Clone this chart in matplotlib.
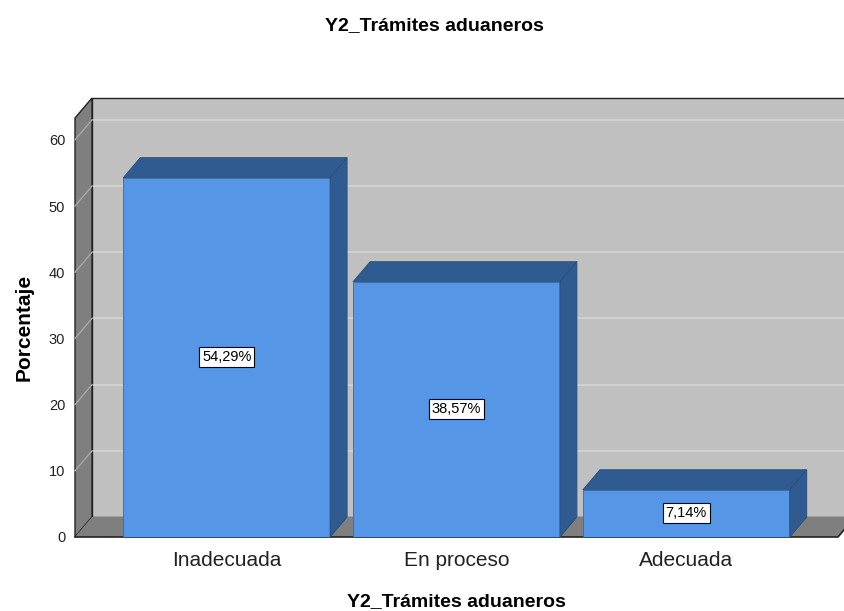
import numpy as np
import matplotlib
matplotlib.use('Agg')
import matplotlib.pyplot as plt
from matplotlib.patches import Polygon

plt.rcParams['font.family'] = ['Liberation Sans', 'DejaVu Sans']

categories = ['Inadecuada', 'En proceso', 'Adecuada']
percents = [54.29, 38.57, 7.14]
labels = ['54,29%', '38,57%', '7,14%']
yticks = [0, 10, 20, 30, 40, 50, 60]
title = 'Y2_Trámites aduaneros'

W, H = 844, 611
fig = plt.figure(figsize=(W / 100, H / 100), dpi=100)
# front plane of the 3d box, in pixels
L, R, B, T = 75, 838, 537, 118
ax = fig.add_axes([L / W, 1 - B / H, (R - L) / W, (B - T) / H])
xmin, xmax = -0.66, 2.66
ymax = 63.3
ax.set_xlim(xmin, xmax)
ax.set_ylim(0, ymax)

# depth offset in data units (17 px right, 20 px up)
DX = 17 / ((R - L) / (xmax - xmin))
DY = 20 / ((B - T) / ymax)

wall = '#c0c0c0'
side = '#7f7f7f'
grid = '#d4d4d4'
front = '#5596e6'
dark = '#2f5b91'

# back wall
ax.add_patch(Polygon([(xmin + DX, DY), (xmax + DX + 1, DY), (xmax + DX + 1, ymax + DY),
                      (xmin + DX, ymax + DY)], closed=True, fc=wall, ec='#222222',
                     lw=1, clip_on=False, zorder=1))
for y in yticks[1:]:
    ax.plot([xmin + DX, xmax + DX + 1], [y + DY, y + DY], color=grid, lw=1.2,
            clip_on=False, zorder=2)

# left wall
ax.add_patch(Polygon([(xmin, 0), (xmin, ymax), (xmin + DX, ymax + DY), (xmin + DX, DY)],
                     closed=True, fc=side, ec='#222222', lw=1, clip_on=False, zorder=3))
for y in yticks[1:]:
    ax.plot([xmin, xmin + DX], [y, y + DY], color='#a8a8a8', lw=1, clip_on=False, zorder=4)

# floor
ax.add_patch(Polygon([(xmin, 0), (xmax, 0), (xmax + DX, DY), (xmin + DX, DY)],
                     closed=True, fc=side, ec='none', clip_on=False, zorder=3))
ax.plot([xmin, xmax, xmax + DX], [0, 0, DY], color='#222222', lw=1.2, clip_on=False, zorder=5)

# bars
x = np.arange(len(categories))
bw = 0.9
ax.bar(x, percents, width=bw, color=front, edgecolor='#3a6aa0', lw=0.6, zorder=6)
for xi, v, lab in zip(x, percents, labels):
    x0, x1 = xi - bw / 2, xi + bw / 2
    ax.add_patch(Polygon([(x0, v), (x1, v), (x1 + DX, v + DY), (x0 + DX, v + DY)],
                         closed=True, fc=dark, ec='#274d7c', lw=0.6, clip_on=False, zorder=6))
    ax.add_patch(Polygon([(x1, 0), (x1, v), (x1 + DX, v + DY), (x1 + DX, DY)],
                         closed=True, fc=dark, ec='#274d7c', lw=0.6, clip_on=False, zorder=6))
    ax.text(xi, v / 2, lab, ha='center', va='center', fontsize=10.5, zorder=8,
            bbox=dict(boxstyle='square,pad=0.2', fc='white', ec='black', lw=0.8))

for s in ax.spines.values():
    s.set_visible(False)
ax.set_facecolor('none')
ax.set_yticks(yticks)
ax.set_yticklabels([str(t) for t in yticks], fontsize=10.5, color='#222222')
ax.set_xticks(x)
ax.set_xticklabels(categories, fontsize=15, color='#222222')
ax.tick_params(axis='y', length=0, pad=7)
ax.tick_params(axis='x', length=0, pad=10)

ax.set_xlabel(title, fontsize=14, fontweight='bold', labelpad=17)
ax.set_ylabel('Porcentaje', fontsize=15, fontweight='bold', labelpad=11)
fig.text(434 / W, 1 - 26 / H, title, ha='center', va='center', fontsize=14, fontweight='bold')

fig.savefig('out.png', dpi=100)
